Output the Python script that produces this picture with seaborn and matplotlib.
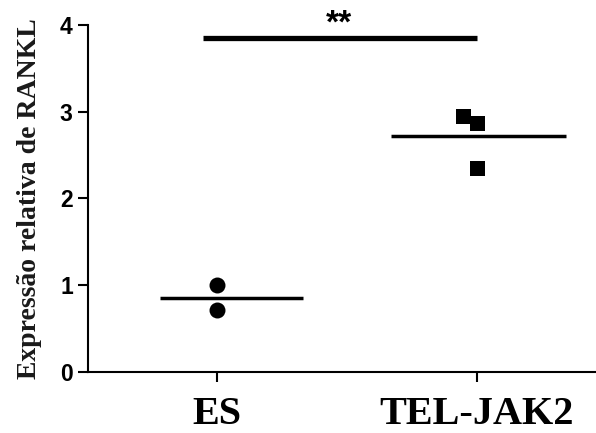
import matplotlib
matplotlib.use("Agg")
import matplotlib.pyplot as plt
import seaborn as sns
import pandas as pd
import numpy as np

categories = ["ES", "TEL-JAK2"]
es_values = [1.00, 0.71]
tel_values = [2.95, 2.87, 2.35]
y_ticks = [0, 1, 2, 3, 4]
y_label = "Expressão relativa de RANKL"
sig_text = "**"

df = pd.DataFrame({
    "group": ["ES"] * len(es_values) + ["TEL-JAK2"] * len(tel_values),
    "value": es_values + tel_values,
})

sns.set_style("ticks")
fig = plt.figure(figsize=(5.96, 4.33), dpi=100)
ax = fig.add_axes([0.1477, 0.1409, 0.8523, 0.8014])

sns.swarmplot(data=df[df.group == "ES"], x="group", y="value", order=categories,
              marker="o", color="black", size=11.5, linewidth=0, ax=ax)
sns.swarmplot(data=df[df.group == "TEL-JAK2"], x="group", y="value", order=categories,
              marker="s", color="black", size=10.8, linewidth=0, ax=ax)

means = df.groupby("group")["value"].mean()
ax.hlines(means["ES"], -0.22, 0.33, color="black", lw=2.5)
ax.hlines(means["TEL-JAK2"], 0.668, 1.344, color="black", lw=2.5)

# significance bar
ax.plot([-0.054, 1.0], [3.85, 3.85], color="black", lw=3.8, clip_on=False,
        solid_capstyle="butt")
ax.text(0.47, 3.83, sig_text, ha="center", va="bottom", fontsize=24,
        fontweight="bold", family="Liberation Sans", color="black")

ax.set_xlim(-0.498, 1.46)
ax.set_ylim(0, 4)
ax.set_yticks(y_ticks)
ax.set_yticklabels([str(t) for t in y_ticks], fontsize=16.5, fontweight="bold",
                   family="Liberation Sans", color="black")
ax.set_xticks(range(len(categories)))
ax.set_xticklabels(categories, fontsize=29, fontweight="bold",
                   family="Liberation Serif", color="black")
ax.set_xlabel("")
ax.set_ylabel(y_label, fontsize=20, fontweight="bold", family="Liberation Serif",
              color="#1a1a1a", labelpad=13)

for s in ["top", "right"]:
    ax.spines[s].set_visible(False)
for s in ["left", "bottom"]:
    ax.spines[s].set_linewidth(1.5)
    ax.spines[s].set_color("black")
ax.tick_params(axis="both", width=1.5, length=7, color="black")
ax.tick_params(axis="x", pad=10)
ax.tick_params(axis="y", pad=4)

fig.savefig("out.png", dpi=100)
